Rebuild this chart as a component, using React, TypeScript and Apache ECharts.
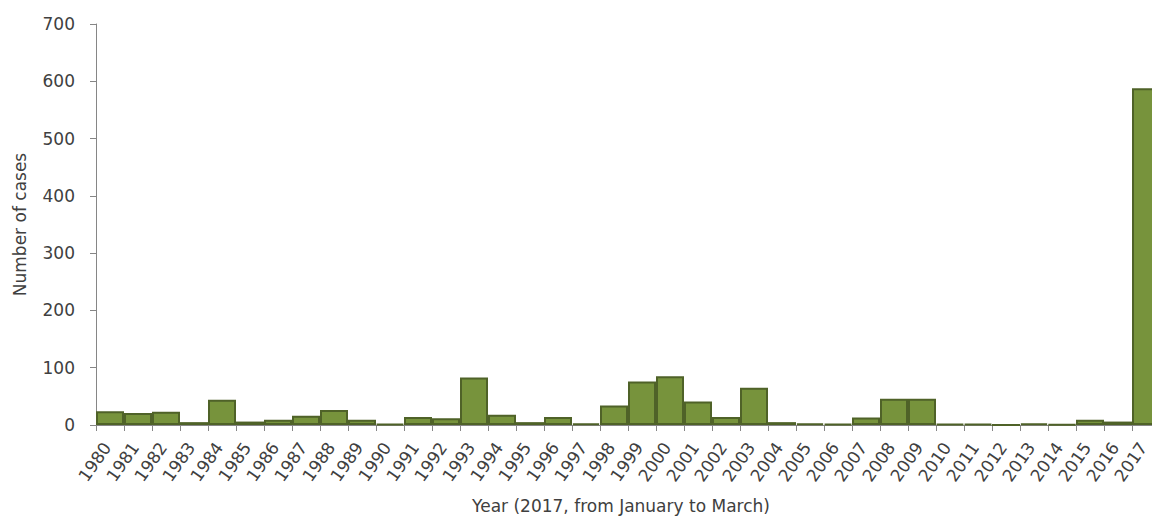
import React, { useEffect, useRef } from "react";
import * as echarts from "echarts";

const years = [
  "1980","1981","1982","1983","1984","1985","1986","1987","1988","1989",
  "1990","1991","1992","1993","1994","1995","1996","1997","1998","1999",
  "2000","2001","2002","2003","2004","2005","2006","2007","2008","2009",
  "2010","2011","2012","2013","2014","2015","2016","2017",
];
const cases = [
  24, 21, 23, 5, 44, 6, 9, 16, 26, 9,
  2, 14, 12, 83, 18, 5, 14, 3, 34, 76,
  85, 41, 14, 65, 5, 3, 2, 13, 46, 46,
  2, 2, 0, 3, 1, 9, 6, 588,
];
const yTicks = { min: 0, max: 700, interval: 100 };
const xTitle = "Year (2017, from January to March)";
const yTitle = "Number of cases";

export default function App() {
  const ref = useRef<HTMLDivElement>(null);
  useEffect(() => {
    if (!ref.current) return;
    document.documentElement.style.overflow = "hidden";
    document.body.style.overflow = "hidden";
    const chart = echarts.init(ref.current, undefined, { renderer: "svg" });
    const font = "DejaVu Sans";
    const textColor = "#404040";
    const axisColor = "#868686";
    chart.setOption({
      animation: false,
      grid: {
        left: 96,
        top: 24,
        width: 1064,
        height: 401,
        containLabel: false,
        outerBoundsMode: "none",
      },
      xAxis: {
        type: "category",
        data: years,
        name: xTitle,
        nameLocation: "middle",
        nameGap: 72,
        nameTextStyle: { fontFamily: font, fontSize: 17, color: textColor, padding: [0, 14, 0, 0] },
        axisLine: { lineStyle: { color: axisColor, width: 1 } },
        axisTick: { show: true, alignWithLabel: false, length: 6, lineStyle: { color: axisColor } },
        axisLabel: {
          rotate: 55,
          margin: 15,
          padding: [0, 5, 0, 0],
          interval: 0,
          fontFamily: font,
          fontSize: 17,
          color: textColor,
        },
        splitLine: { show: false },
      },
      yAxis: {
        type: "value",
        min: yTicks.min,
        max: yTicks.max,
        interval: yTicks.interval,
        name: yTitle,
        nameLocation: "middle",
        nameGap: 68,
        nameTextStyle: { fontFamily: font, fontSize: 17, color: textColor },
        axisLine: { show: true, lineStyle: { color: axisColor, width: 1 } },
        axisTick: { show: true, length: 6, lineStyle: { color: axisColor } },
        axisLabel: { margin: 21, fontFamily: font, fontSize: 17, color: textColor },
        splitLine: { show: false },
      },
      series: [
        {
          type: "bar",
          data: cases,
          barCategoryGap: "0%",
          itemStyle: { color: "#77933C", borderColor: "#4F6228", borderWidth: 2 },
        },
      ],
    });
    return () => chart.dispose();
  }, []);
  return (
    <div
      ref={ref}
      style={{ position: "absolute", left: 0, top: 0, width: 1152, height: 516, overflow: "hidden", background: "#fff" }}
    />
  );
}
